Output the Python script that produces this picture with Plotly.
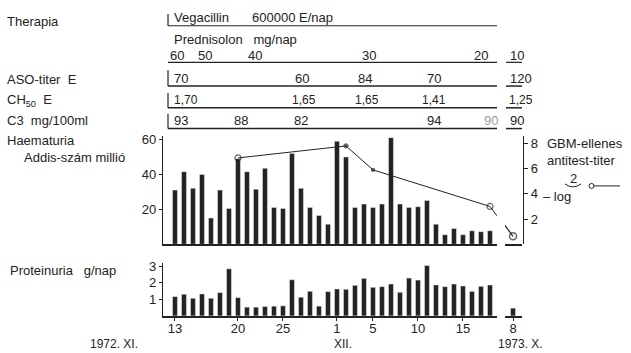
import plotly.graph_objects as go

W, H = 631, 353

# ---------------- data ----------------
# days from 1972 Nov 13 to Dec 18 (index 0..35)
day_labels = [str(d) for d in range(13, 31)] + [str(d) for d in range(1, 19)]
haematuria = [31, 41.5, 32, 40, 15, 31, 20.5, 49, 41.5, 31.5, 43.5, 21, 20.5, 52,
              32, 21, 16.5, 11.5, 59, 50, 21, 23, 21, 23, 61, 23, 21, 21.5, 25,
              11.5, 5.5, 9, 5.5, 7.7, 7.2, 7.7]
proteinuria = [1.17, 1.31, 1.07, 1.33, 1.07, 1.41, 2.85, 1.11, 0.53, 0.53, 0.57,
               0.59, 0.61, 2.19, 1.13, 1.49, 0.59, 1.47, 1.63, 1.61, 1.85, 2.27,
               1.73, 1.77, 1.93, 1.43, 2.29, 2.17, 3.05, 1.87, 1.77, 1.93, 1.81,
               1.49, 1.79, 1.87]
# 1973 Oct 8
proteinuria_oct = [0.47]
oct_label = ["8"]

# GBM antibody titre (log2): Nov 20, Dec 2, Dec 5, Dec 18, 1973 Oct 8
gbm_days = [7, 19, 22, 35]
gbm_vals = [6.85, 7.8, 5.9, 3.0]
gbm_oct = 0.63

x_tick_idx = [0, 7, 12, 18, 22, 27, 32]
x_tick_txt = ["13", "20", "25", "1", "5", "10", "15"]

prednisolon = ["60", "50", "40", "30", "20", "10"]
aso = ["70", "60", "84", "70", "120"]
ch50 = ["1,70", "1,65", "1,65", "1,41", "1,25"]
c3 = ["93", "88", "82", "94", "90", "90"]

# ---------------- layout helpers ----------------
def px(x):
    return x / W

def py(y):
    return 1 - y / H

INK = "#232323"
FONT = "Liberation Sans"
BREAK_GAP = 2.48  # distance (in day units) from Dec 18 to the Oct 8 mark across the axis break

x_main_range = [-1.33, 35.78]
x_oct_range = [-0.89, 1.0]
up_dom = [py(243), py(134)]
lo_dom = [py(315.5), py(262)]
hy_range = [0, 61.7]
gbm_range = [0, 8.55]
pr_range = [0, 3.2]

fig = go.Figure()

idx = list(range(len(haematuria)))
fig.add_trace(go.Bar(x=idx, y=haematuria, width=0.55, marker_color=INK,
                     xaxis="x", yaxis="y", showlegend=False))
fig.add_trace(go.Scatter(
    x=gbm_days + [gbm_days[-1] + BREAK_GAP], y=gbm_vals + [gbm_oct],
    mode="lines+markers", xaxis="x", yaxis="y2", showlegend=False,
    line=dict(color=INK, width=1),
    marker=dict(symbol=["circle-open", "circle", "circle", "circle-open", "circle"],
                size=[6, 4, 3, 6, 0], color=INK, line=dict(color=INK, width=1.2))))
fig.add_trace(go.Scatter(
    x=[-BREAK_GAP, 0], y=[gbm_vals[-1], gbm_oct], mode="lines+markers",
    xaxis="x2", yaxis="y5", showlegend=False,
    line=dict(color=INK, width=1.2),
    marker=dict(symbol="circle-open", size=[0, 7], color=INK, line=dict(color=INK, width=1.5))))
fig.add_trace(go.Bar(x=idx, y=proteinuria, width=0.55, marker_color=INK,
                     xaxis="x3", yaxis="y3", showlegend=False))
fig.add_trace(go.Bar(x=[0], y=proteinuria_oct, width=0.55, marker_color=INK,
                     xaxis="x4", yaxis="y4", showlegend=False))

axis_common = dict(showgrid=False, zeroline=False, linecolor=INK, tickcolor=INK,
                   tickfont=dict(family=FONT, size=13, color=INK))

fig.update_layout(
    width=W, height=H, margin=dict(l=0, r=0, t=0, b=0),
    paper_bgcolor="white", plot_bgcolor="white",
    font=dict(family=FONT, size=13, color=INK),
    xaxis=dict(domain=[px(163), px(497)], range=x_main_range, anchor="y",
               showline=True, linewidth=1.5, showticklabels=False, ticks="", **axis_common),
    yaxis=dict(domain=up_dom, range=hy_range, anchor="x", tickvals=[20, 40, 60],
               ticks="outside", ticklen=3, showline=True, linewidth=1.2, **axis_common),
    yaxis2=dict(overlaying="y", side="right", anchor="free", position=px(523),
                range=gbm_range, tickvals=[2, 4, 6, 8], ticks="outside", ticklen=4,
                showline=True, linewidth=1.2, **axis_common),
    xaxis2=dict(domain=[px(505), px(522)], range=x_oct_range, anchor="y5",
                showline=True, linewidth=1.5, showticklabels=False, ticks="", **axis_common),
    yaxis5=dict(domain=up_dom, range=gbm_range, anchor="x2", visible=False),
    xaxis3=dict(domain=[px(163), px(497)], range=x_main_range, anchor="y3",
                tickvals=x_tick_idx, ticktext=x_tick_txt, ticks="outside", ticklen=3,
                ticklabelstandoff=-3,
                showline=True, linewidth=1.5, **axis_common),
    yaxis3=dict(domain=lo_dom, range=pr_range, anchor="x3", tickvals=[1, 2, 3],
                ticks="outside", ticklen=3, showline=True, linewidth=1.2, **axis_common),
    xaxis4=dict(domain=[px(505), px(522)], range=x_oct_range, anchor="y4",
                tickvals=[0], ticktext=oct_label, ticks="outside", ticklen=3,
                ticklabelstandoff=-3,
                showline=True, linewidth=1.5, **axis_common),
    yaxis4=dict(domain=lo_dom, range=pr_range, anchor="x4", visible=False),
)

ann = []
def txt(x, y, s, size=13, anchor="left", color=INK):
    ann.append(dict(x=px(x), y=py(y), xref="paper", yref="paper", text=s,
                    showarrow=False, xanchor=anchor, yanchor="middle",
                    font=dict(family=FONT, size=size, color=color)))

# left row labels
txt(5, 18, "Therapia")
txt(5, 76, "ASO-titer  E")
txt(5, 98, "CH<sub>50</sub>  E")
txt(5, 118, "C3  mg/100ml")
txt(5, 138, "Haematuria")
txt(22, 155, "Addis-szám millió")
txt(8, 270, "Proteinuria   g/nap")

# therapy table
txt(172, 14, "Vegacillin")
txt(250, 14, "600000 E/nap")
txt(172, 36, "Prednisolon   mg/nap")
for s, x in zip(prednisolon, [168, 196, 246, 360, 472, 508]):
    txt(x, 52, s)
for s, x in zip(aso, [172, 293, 356, 425, 508]):
    txt(x, 75, s)
for s, x in zip(ch50, [172, 290, 353, 420, 507]):
    txt(x, 97, s, size=12)
for s, x, col in zip(c3, [172, 232, 292, 425, 482, 508],
                     [INK, INK, INK, INK, "#9a9a9a", INK]):
    txt(x, 118, s, color=col)

# right legend
txt(545, 141, "GBM-ellenes")
txt(545, 158, "antitest-titer")
txt(568, 177, "2")
txt(541, 195, "– log")

# bottom date labels
txt(88, 344, "1972. XI.", size=12)
txt(343, 344, "XII.", anchor="center", size=12)
txt(496, 344, "1973. X.", size=12)

fig.update_layout(annotations=ann)

shapes = []
def line(x0, y0, x1, y1, w=1.2):
    shapes.append(dict(type="line", xref="paper", yref="paper", x0=px(x0), y0=py(y0),
                       x1=px(x1), y1=py(y1), line=dict(color=INK, width=w)))

# table rules
line(168, 10, 168, 22)
line(168, 22, 497, 22)
line(168, 59, 497, 59)
line(506, 59, 522, 59)
for yy in (83, 105, 126):
    line(168, yy, 497, yy, 1.5)
    line(506, yy, 522, yy, 1.5)
for y0, y1 in ((67, 83), (90, 105), (111, 126)):
    line(168, y0, 168, y1)
# legend sample line
line(593, 184, 620, 184, 1)
shapes.append(dict(type="circle", xref="paper", yref="paper",
                   x0=px(589), x1=px(594), y0=py(181.5), y1=py(186.5),
                   line=dict(color=INK, width=1), fillcolor="white"))
# arc under the "2"
shapes.append(dict(type="path", xref="paper", yref="paper",
                   path=f"M {px(565)} {py(182)} Q {px(573)} {py(188)} {px(581)} {py(182)}",
                   line=dict(color=INK, width=1)))
fig.update_layout(shapes=shapes)

fig.write_html("out.html", config={"displayModeBar": False},
               post_script="document.body.style.margin='0';document.body.style.overflow='hidden';")
